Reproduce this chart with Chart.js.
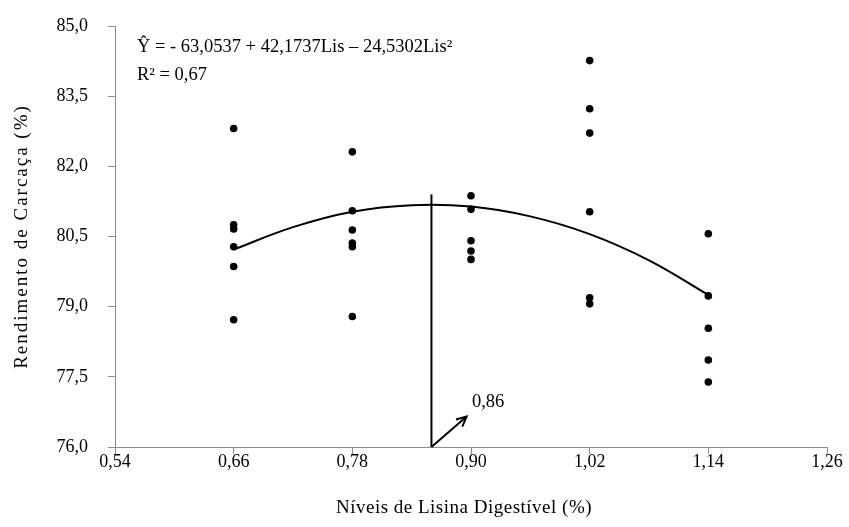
<!DOCTYPE html>
<html>
<head>
<meta charset="utf-8">
<script src="https://cdn.jsdelivr.net/npm/chart.js@4/dist/chart.umd.min.js"></script>
<style>
  html, body { margin: 0; padding: 0; background: #fff; }
  #wrap { width: 849px; height: 527px; }
</style>
</head>
<body>
<div id="wrap"><canvas id="grafico" width="849" height="527"></canvas></div>
<script>
// niveis de lisina e rendimento observado em cada nivel
const lisina = [0.66, 0.78, 0.90, 1.02, 1.14];
const rend066 = [82.81, 80.75, 80.66, 80.28, 79.86, 78.72];
const rend078 = [82.31, 81.05, 80.64, 80.36, 80.28, 78.79];
const rend090 = [81.37, 81.08, 80.41, 80.19, 80.01];
const rend102 = [84.26, 83.23, 82.71, 81.03, 79.19, 79.06];
const rend114 = [80.56, 79.23, 78.54, 77.86, 77.39];

// curva ajustada
const curvaX = [0.66, 0.72, 0.78, 0.84, 0.90, 0.96, 1.02, 1.08, 1.14];
const curvaY = [80.22, 80.70, 81.03, 81.17, 81.14, 80.93, 80.55, 79.99, 79.25];

// ponto de maximo e seta
const maxLis = 0.86;
const linhaMax = [76.0, 81.4];
const setaDe = [0.86, 76.0];
const setaPara = [0.8956, 76.65];
const rotuloSeta = { x: 0.901, y: 76.96, texto: '0,86' };

const ticksX = [0.54, 0.66, 0.78, 0.90, 1.02, 1.14, 1.26];
const ticksY = [76.0, 77.5, 79.0, 80.5, 82.0, 83.5, 85.0];

const equacao = 'Ŷ = - 63,0537 + 42,1737Lis – 24,5302Lis²';
const r2 = 'R² = 0,67';
const tituloX = 'Níveis de Lisina Digestível (%)';
const tituloY = 'Rendimento de Carcaça (%)';

const familia = '"Liberation Serif", "Times New Roman", serif';
const fonteTick = { family: familia, size: 18 };
const cinza = '#8c8c8c';

const pontos = [];
[rend066, rend078, rend090, rend102, rend114].forEach((vals, i) => {
  vals.forEach(v => pontos.push({ x: lisina[i], y: v }));
});

const anotacoes = {
  id: 'anotacoes',
  afterDraw(chart) {
    const { ctx, chartArea, scales } = chart;
    ctx.save();
    ctx.fillStyle = '#000';
    ctx.textBaseline = 'middle';
    ctx.textAlign = 'left';
    ctx.font = `18.5px ${familia}`;
    ctx.fillText(equacao, chartArea.left + 22, chartArea.top + 21);
    ctx.fillText(r2, chartArea.left + 22, chartArea.top + 49);

    // seta apontando para o nivel otimo
    const x0 = scales.x.getPixelForValue(setaDe[0]);
    const y0 = scales.y.getPixelForValue(setaDe[1]);
    const x1 = scales.x.getPixelForValue(setaPara[0]);
    const y1 = scales.y.getPixelForValue(setaPara[1]);
    ctx.strokeStyle = '#000';
    ctx.lineWidth = 2;
    ctx.beginPath();
    ctx.moveTo(x0, y0);
    ctx.lineTo(x1, y1);
    ctx.stroke();
    const ang = Math.atan2(y1 - y0, x1 - x0);
    const tam = 11;
    ctx.beginPath();
    ctx.moveTo(x1 - tam * Math.cos(ang - 0.45), y1 - tam * Math.sin(ang - 0.45));
    ctx.lineTo(x1, y1);
    ctx.lineTo(x1 - tam * Math.cos(ang + 0.45), y1 - tam * Math.sin(ang + 0.45));
    ctx.stroke();

    ctx.fillText(rotuloSeta.texto, scales.x.getPixelForValue(rotuloSeta.x), scales.y.getPixelForValue(rotuloSeta.y));

    // titulos dos eixos (com espacamento entre letras)
    ctx.textAlign = 'center';
    ctx.font = `19px ${familia}`;
    ctx.letterSpacing = '0.5px';
    ctx.fillText(tituloX, (chartArea.left + chartArea.right) / 2 - 7, 508);
    ctx.letterSpacing = '2px';
    ctx.translate(22, (chartArea.top + chartArea.bottom) / 2);
    ctx.rotate(-Math.PI / 2);
    ctx.fillText(tituloY, 0, 0);
    ctx.restore();
  }
};

new Chart(document.getElementById('grafico'), {
  type: 'scatter',
  data: {
    datasets: [
      {
        data: pontos,
        backgroundColor: '#000',
        borderColor: '#000',
        pointRadius: 3.8,
        pointBorderWidth: 0
      },
      {
        type: 'line',
        data: curvaX.map((x, i) => ({ x, y: curvaY[i] })),
        borderColor: '#000',
        borderWidth: 2,
        pointRadius: 0,
        tension: 0.4,
        fill: false
      },
      {
        type: 'line',
        data: linhaMax.map(y => ({ x: maxLis, y })),
        borderColor: '#000',
        borderWidth: 2,
        pointRadius: 0,
        fill: false
      }
    ]
  },
  options: {
    responsive: false,
    animation: false,
    layout: { padding: { top: 26, right: 22, left: 0, bottom: 0 } },
    plugins: { legend: { display: false }, tooltip: { enabled: false } },
    scales: {
      x: {
        type: 'linear',
        min: 0.54,
        max: 1.26,
        afterBuildTicks: s => { s.ticks = ticksX.map(v => ({ value: v })); },
        afterFit: s => { s.height = 80; s.paddingLeft = 0; s.paddingRight = 0; },
        ticks: {
          color: '#000',
          font: fonteTick,
          padding: -3,
          callback: v => v.toFixed(2).replace('.', ',')
        },
        grid: { drawOnChartArea: false, drawTicks: true, tickLength: 7, color: cinza },
        border: { display: true, color: cinza, width: 1 }
      },
      y: {
        min: 76,
        max: 85,
        afterBuildTicks: s => { s.ticks = ticksY.map(v => ({ value: v })); },
        afterFit: s => { s.width = 115; s.paddingTop = 0; s.paddingBottom = 0; },
        ticks: {
          color: '#000',
          font: fonteTick,
          padding: 20,
          callback: v => v.toFixed(1).replace('.', ',')
        },
        grid: { drawOnChartArea: false, drawTicks: true, tickLength: 7, color: cinza },
        border: { display: true, color: cinza, width: 1 }
      }
    }
  },
  plugins: [anotacoes]
});
</script>
</body>
</html>
